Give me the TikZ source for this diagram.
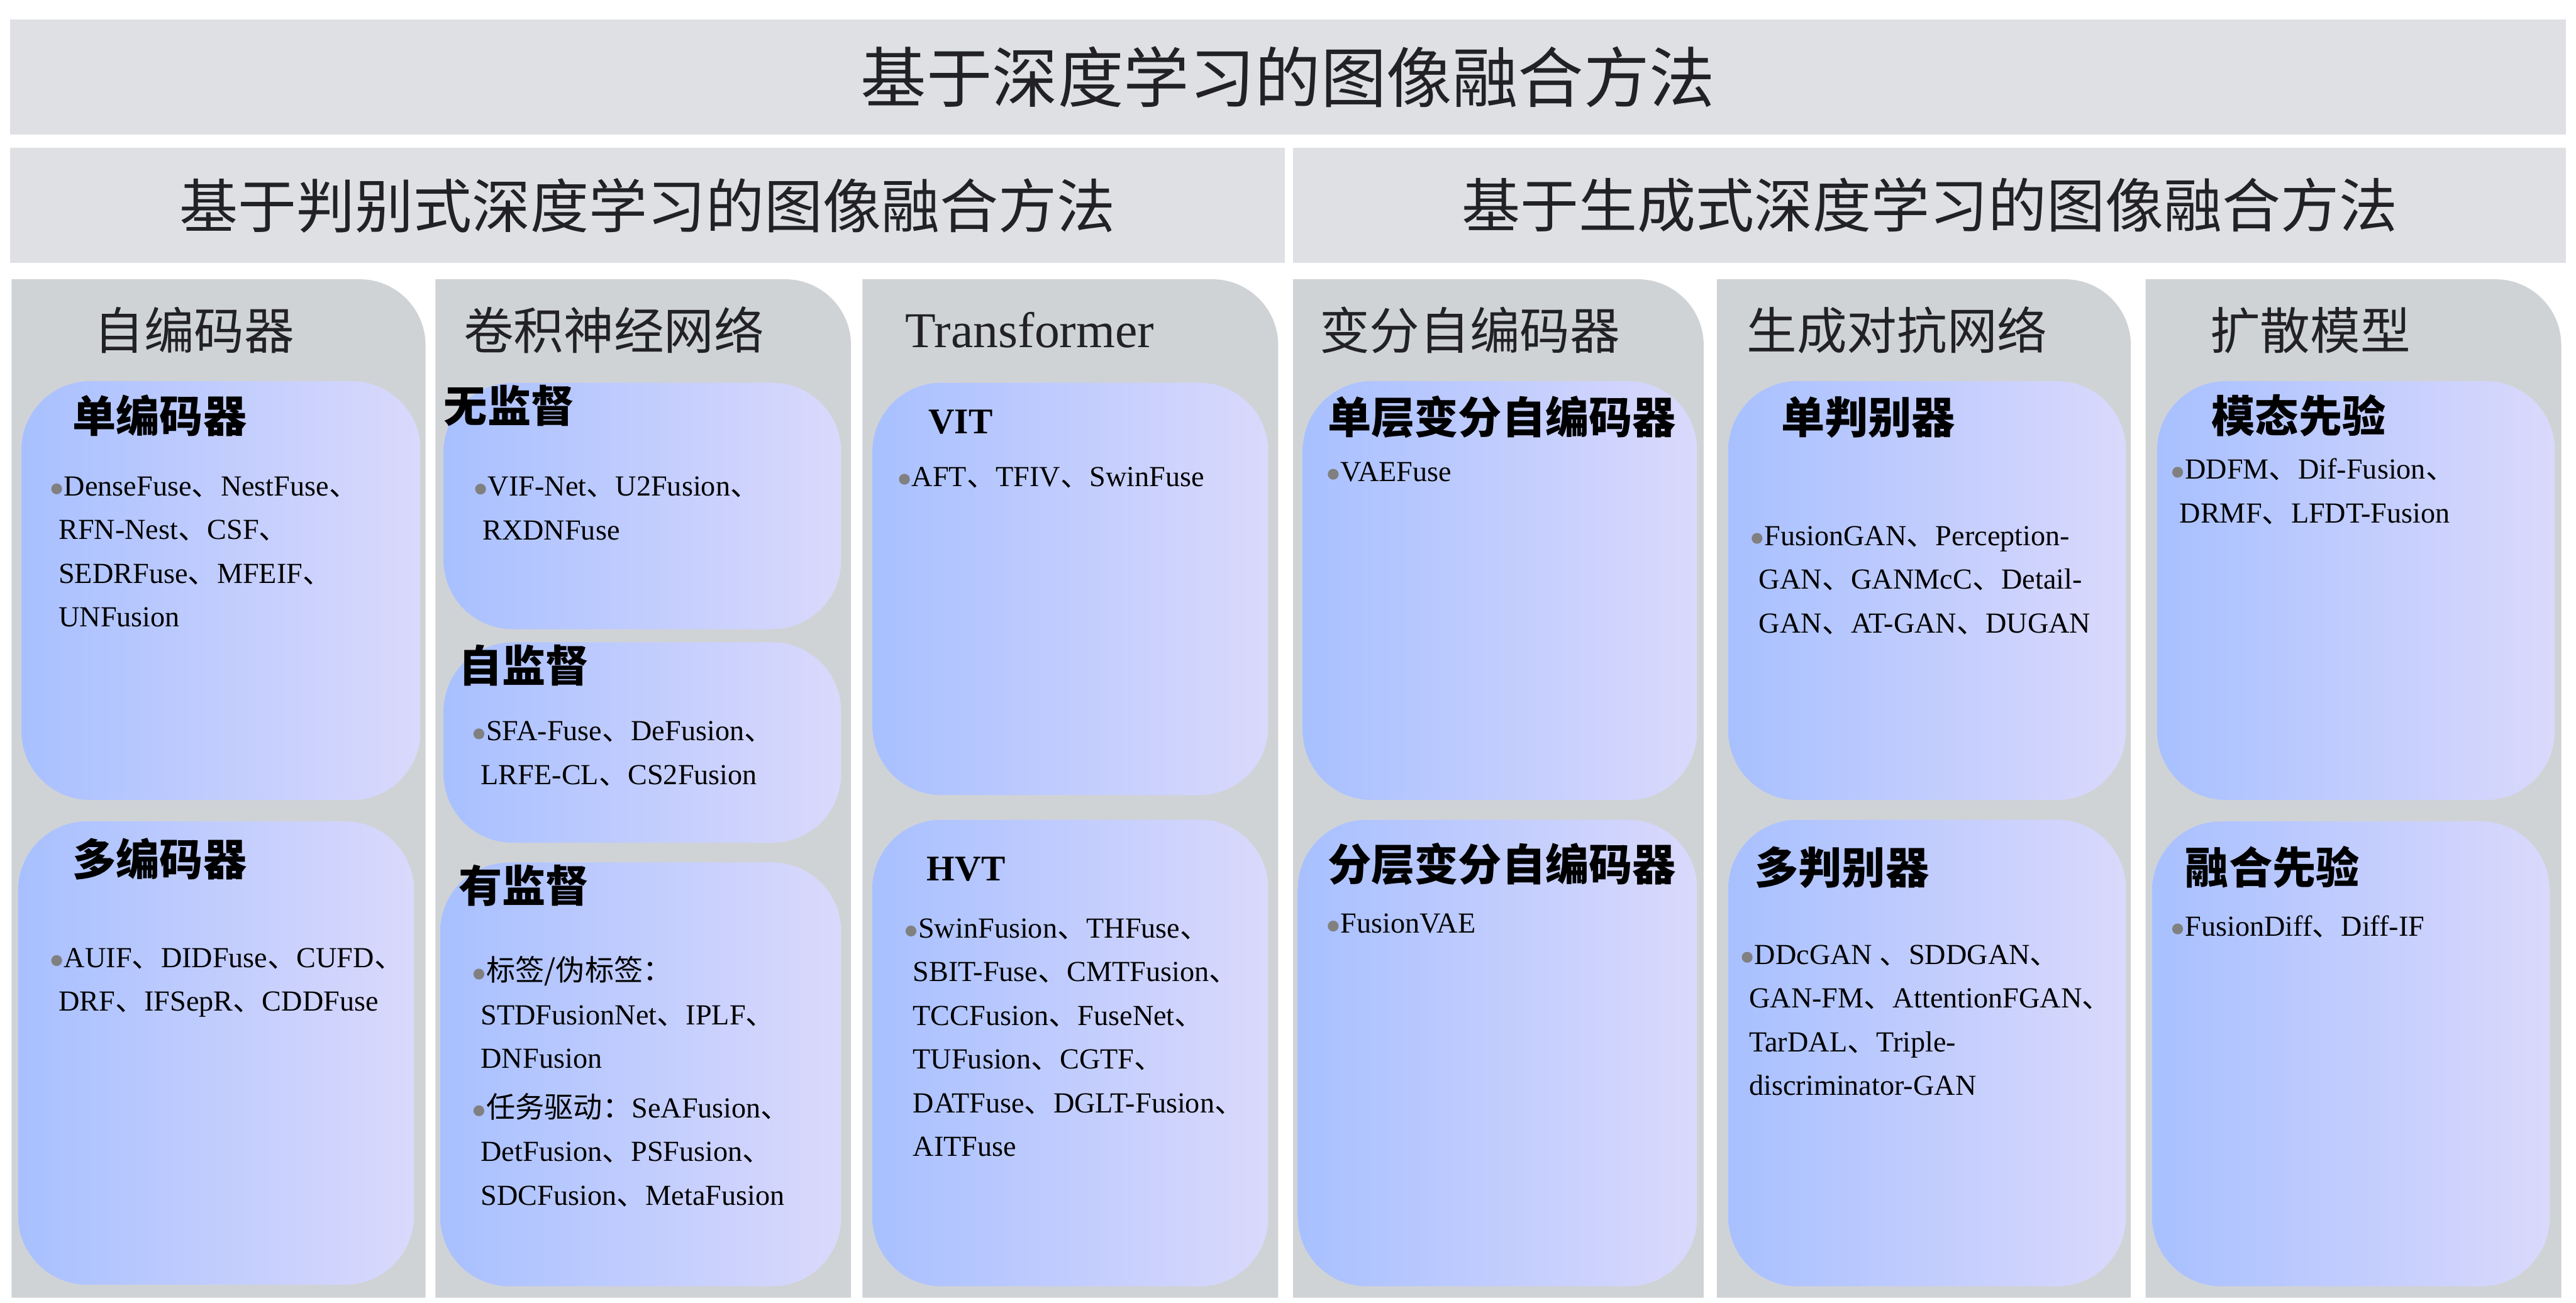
\documentclass[tikz,border=0pt]{standalone}
\usepackage{fontspec}
\setmainfont{Liberation Serif}
\newfontfamily\zhfont{Noto Sans CJK SC}
\usetikzlibrary{fit, positioning}
\definecolor{BandGray}{RGB}{222,224,228}
\definecolor{ColGray}{RGB}{208,211,214}
\definecolor{BoxLeft}{RGB}{168,192,255}
\definecolor{BoxRight}{RGB}{218,217,252}
\definecolor{DotGray}{RGB}{128,128,128}
\definecolor{TitleInk}{RGB}{34,34,38}
\newcommand{\dun}{{\zhfont 、}}
\newcommand{\bul}{\hspace*{-4.5pt}\tikz[baseline=-4.2pt]\fill[DotGray] (0,0) circle[radius=3.3pt];\hspace{1.2pt}}
% gray column, only the top right corner is rounded
\newcommand{\lie}[2]{\fill[ColGray] (#1,170) -- (#1,790) -- (#2,790) -- (#2,210)
	.. controls (#2,188) and (#2-18,170) .. (#2-40,170) -- cycle;}

\begin{document}
\begin{tikzpicture}[x=1pt, y=-1pt,
	band/.style={fill=BandGray, inner sep=0pt, text=TitleInk, font=\zhfont\fontsize{35.6}{36}\selectfont},
	inbox/.style={inner sep=0pt, rounded corners=42pt, left color=BoxLeft, right color=BoxRight},
	kopf/.style={anchor=west, inner sep=0pt, text=TitleInk, font=\zhfont\fontsize{30.5}{31}\selectfont},
	lab/.style={anchor=west, inner sep=0pt, font=\zhfont\bfseries\fontsize{26.5}{27}\selectfont},
	items/.style={anchor=north west, inner sep=0pt, align=left, font=\fontsize{17.7}{26.6}\selectfont}]
	\fill[white] (0,0) rectangle (1568,793);
	\useasboundingbox (0,0) rectangle (1568,793);

	% title bands
	\node[band, minimum width=1556pt, minimum height=70pt, font=\zhfont\fontsize{40}{40}\selectfont] (top) at (784,47) {基于深度学习的图像融合方法};
	\node[band, minimum width=776pt, minimum height=70pt] (disc) at (394,125) {基于判别式深度学习的图像融合方法};
	\node[band, minimum width=775pt, minimum height=70pt] (gen) at (1174.5,125) {基于生成式深度学习的图像融合方法};

	% columns
	\lie{7}{259}
	\lie{265}{518}
	\lie{525}{778}
	\lie{787}{1037}
	\lie{1045}{1297}
	\lie{1306}{1559}

	\node[kopf] (h-ae) at (57,201) {自编码器};
	\node[kopf] (h-cnn) at (282,201) {卷积神经网络};
	\node[kopf, font=\fontsize{30.5}{31}\selectfont] (h-tf) at (551,201) {Transformer};
	\node[kopf] (h-vae) at (803,201) {变分自编码器};
	\node[kopf] (h-gan) at (1063,201) {生成对抗网络};
	\node[kopf] (h-dm) at (1345,201) {扩散模型};

	% gradient boxes
	\node[inbox, fit={(13,232) (256,487)}] (ae1) {};
	\node[inbox, fit={(11,500) (252,782)}] (ae2) {};
	\node[inbox, fit={(270,233) (512,383)}] (cnn1) {};
	\node[inbox, fit={(270,391) (512,513)}] (cnn2) {};
	\node[inbox, fit={(268,525) (512,783)}] (cnn3) {};
	\node[inbox, fit={(531,233) (772,484)}] (tf1) {};
	\node[inbox, fit={(531,499) (772,783)}] (tf2) {};
	\node[inbox, fit={(793,232) (1033,487)}] (vae1) {};
	\node[inbox, fit={(790,499) (1033,783)}] (vae2) {};
	\node[inbox, fit={(1052,232) (1294,487)}] (gan1) {};
	\node[inbox, fit={(1052,499) (1294,783)}] (gan2) {};
	\node[inbox, fit={(1313,232) (1555,487)}] (dm1) {};
	\node[inbox, fit={(1310,500) (1552,783)}] (dm2) {};

	% box titles
	\node[lab] (l-ae1) at (44,253) {单编码器};
	\node[lab] (l-ae2) at (44,523) {多编码器};
	\node[lab] (l-cnn1) at (270,247) {无监督};
	\node[lab] (l-cnn2) at (279,405) {自监督};
	\node[lab] (l-cnn3) at (279,539) {有监督};
	\node[lab, font=\bfseries\fontsize{22}{22}\selectfont] (l-tf1) at (565,257) {VIT};
	\node[lab, font=\bfseries\fontsize{22}{22}\selectfont] (l-tf2) at (564,529) {HVT};
	\node[lab] (l-vae1) at (808,254) {单层变分自编码器};
	\node[lab] (l-vae2) at (808,526) {分层变分自编码器};
	\node[lab] (l-gan1) at (1084,254) {单判别器};
	\node[lab] (l-gan2) at (1068,528) {多判别器};
	\node[lab] (l-dm1) at (1346,253) {模态先验};
	\node[lab] (l-dm2) at (1330,528) {融合先验};

	% methods
	\node[items] (m-ae1) at (35.5,290) {\bul DenseFuse\dun NestFuse\dun\\RFN-Nest\dun CSF\dun\\SEDRFuse\dun MFEIF\dun\\UNFusion};
	\node[items] (m-ae2) at (35.5,577) {\bul AUIF\dun DIDFuse\dun CUFD\dun\\DRF\dun IFSepR\dun CDDFuse};
	\node[items] (m-cnn1) at (293.5,290) {\bul VIF-Net\dun U2Fusion\dun\\RXDNFuse};
	\node[items] (m-cnn2) at (292.5,439) {\bul SFA-Fuse\dun DeFusion\dun\\LRFE-CL\dun CS2Fusion};
	\node[items] (m-cnn3) at (292.5,582) {\bul{\zhfont 标签/伪标签：}\\STDFusionNet\dun IPLF\dun\\DNFusion\\[3.4pt]
		\bul{\zhfont 任务驱动：}SeAFusion\dun\\DetFusion\dun PSFusion\dun\\SDCFusion\dun MetaFusion};
	\node[items] (m-tf1) at (551.5,284) {\bul AFT\dun TFIV\dun SwinFuse};
	\node[items] (m-tf2) at (555.5,559) {\bul SwinFusion\dun THFuse\dun\\SBIT-Fuse\dun CMTFusion\dun\\TCCFusion\dun FuseNet\dun\\TUFusion\dun CGTF\dun\\DATFuse\dun DGLT-Fusion\dun\\AITFuse};
	\node[items] (m-vae1) at (812.5,281) {\bul VAEFuse};
	\node[items] (m-vae2) at (812.5,556) {\bul FusionVAE};
	\node[items] (m-gan1) at (1070.5,320) {\bul FusionGAN\dun Perception-\\GAN\dun GANMcC\dun Detail-\\GAN\dun AT-GAN\dun DUGAN};
	\node[items] (m-gan2) at (1064.5,575) {\bul DDcGAN \dun SDDGAN\dun\\GAN-FM\dun AttentionFGAN\dun\\TarDAL\dun Triple-\\discriminator-GAN};
	\node[items] (m-dm1) at (1326.5,279) {\bul DDFM\dun Dif-Fusion\dun\\DRMF\dun LFDT-Fusion};
	\node[items] (m-dm2) at (1326.5,557) {\bul FusionDiff\dun Diff-IF};
\end{tikzpicture}
\end{document}
